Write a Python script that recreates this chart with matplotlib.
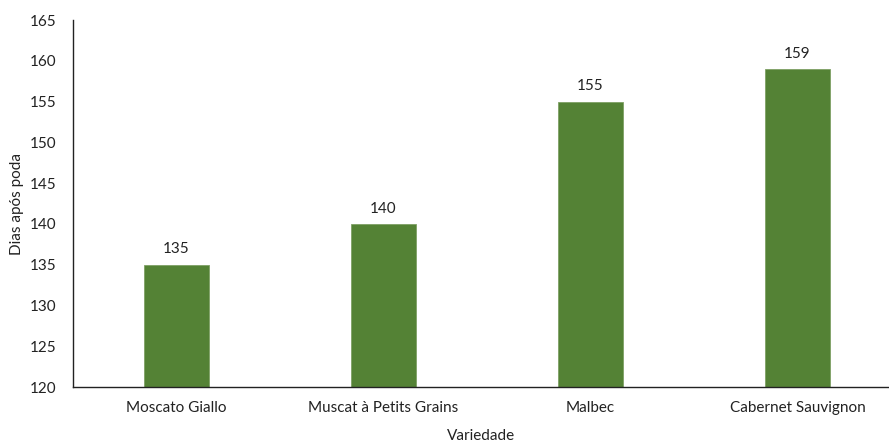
import matplotlib.pyplot as plt

variedades = ["Moscato Giallo", "Muscat à Petits Grains", "Malbec", "Cabernet Sauvignon"]
dias = [135, 140, 155, 159]

plt.rcParams['font.family'] = ['Lato', 'DejaVu Sans']

fig = plt.figure(figsize=(8.89, 4.44), dpi=100)
ax = fig.add_axes([73 / 889, 57 / 444, (889 - 73) / 889, 367 / 444])

x = range(len(variedades))
bars = ax.bar(x, dias, width=0.315, color="#548235", edgecolor="#7fa065", linewidth=0.6)

for b, v in zip(bars, dias):
    ax.annotate(str(v), (b.get_x() + b.get_width() / 2, v), xytext=(0, 6),
                textcoords="offset points", ha="center", va="bottom", fontsize=11, color="#222222")

ax.set_ylim(120, 165)
ax.set_yticks(range(120, 166, 5))
ax.set_xlim(-0.5, -0.5 + (889 - 73) / 207)
ax.set_xticks(list(x))
ax.set_xticklabels(variedades)
ax.tick_params(length=0, labelsize=11, colors="#222222")
ax.tick_params(axis="x", pad=10)
ax.tick_params(axis="y", pad=12)

for s in ["top", "right"]:
    ax.spines[s].set_visible(False)
for s in ["left", "bottom"]:
    ax.spines[s].set_color("#222222")
    ax.spines[s].set_linewidth(1.0)

ax.set_xlabel("Variedade", fontsize=11, color="#222222", labelpad=10)
ax.set_ylabel("Dias após poda", fontsize=11, color="#222222", labelpad=4)

fig.savefig("out.png", dpi=100)
